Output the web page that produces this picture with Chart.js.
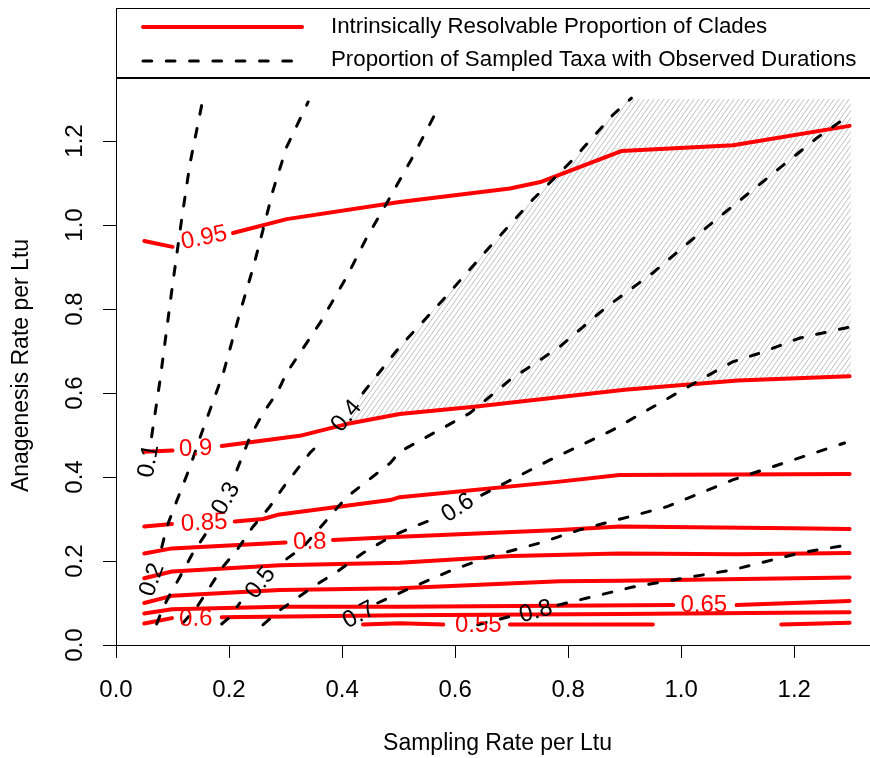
<!DOCTYPE html>
<html>
<head>
<meta charset="utf-8">
<script src="https://cdn.jsdelivr.net/npm/chart.js@4.4.1/dist/chart.umd.min.js"></script>
<style>
  html, body { margin: 0; padding: 0; background: #fff; overflow: hidden; }
  #wrap { width: 900px; height: 758px; }
</style>
</head>
<body>
<div id="wrap"><canvas id="c" width="900" height="758"></canvas></div>
<script>
// axis ticks
const xTicks = [0, 0.2, 0.4, 0.6, 0.8, 1.0, 1.2];
const yTicks = [0, 0.2, 0.4, 0.6, 0.8, 1.0, 1.2];

// red contours: intrinsically resolvable proportion of clades
// [sampling, anagenesis] pairs, null = break in the line
const res95 = [[0.05,0.962],[0.10,0.948],null,[0.207,0.981],[0.302,1.014],[0.502,1.055],[0.697,1.087],[0.753,1.103],[0.894,1.176],[1.092,1.190],[1.298,1.236]];
const res90 = [[0.05,0.46],[0.10,0.463],null,[0.187,0.474],[0.325,0.498],[0.408,0.526],[0.502,0.55],[0.638,0.568],[0.9,0.608],[1.1,0.63],[1.298,0.64]];
const res85 = [[0.05,0.282],[0.099,0.288],null,[0.21,0.294],[0.26,0.3],[0.286,0.31],[0.485,0.345],[0.502,0.352],[0.785,0.389],[0.891,0.405],[1.298,0.407]];
const res80 = [[0.05,0.218],[0.099,0.23],[0.3,0.244],null,[0.384,0.25],[0.502,0.258],[0.785,0.274],[0.891,0.282],[1.197,0.278],[1.298,0.276]];
const res75 = [[0.05,0.159],[0.099,0.175],[0.29,0.19],[0.502,0.196],[0.7,0.212],[0.891,0.218],[1.1,0.216],[1.298,0.219]];
const res70 = [[0.05,0.1],[0.099,0.117],[0.29,0.131],[0.502,0.135],[0.785,0.152],[0.891,0.153],[1.298,0.161]];
const res65 = [[0.05,0.075],[0.099,0.085],[0.29,0.091],[0.502,0.091],[0.986,0.095],null,[1.098,0.095],[1.298,0.105]];
const res60 = [[0.05,0.051],[0.099,0.064],null,[0.187,0.066],[0.502,0.071],[0.891,0.074],[1.298,0.078]];
const res55 = [[0.437,0.049],[0.502,0.052],[0.579,0.049],null,[0.697,0.049],[0.95,0.049],null,[1.177,0.049],[1.298,0.053]];

// black dashed contours: proportion of sampled taxa with observed durations
const obs10 = [[0.063,0.496],[0.078,0.631],[0.098,0.837],[0.116,1.012],[0.131,1.147],[0.154,1.301]];
const obs20 = [[0.081,0.233],[0.09,0.281],[0.099,0.314],[0.113,0.362],[0.131,0.424],[0.149,0.495],[0.19,0.648],[0.219,0.79],[0.243,0.9],[0.26,0.988],[0.278,1.083],[0.302,1.186],[0.34,1.293]];
const obs30 = [[0.072,0.05],[0.083,0.088],[0.095,0.119],[0.113,0.162],[0.136,0.219],[0.161,0.269],null,[0.214,0.417],[0.237,0.495],[0.26,0.552],[0.285,0.6],[0.302,0.648],[0.361,0.767],[0.408,0.876],[0.444,0.971],[0.479,1.052],[0.525,1.162],[0.573,1.286]];
const obs40 = [[0.118,0.052],[0.143,0.09],[0.166,0.138],[0.189,0.186],[0.214,0.226],[0.242,0.281],[0.272,0.329],[0.299,0.381],[0.343,0.457],[0.366,0.488],null,[0.437,0.6],[0.502,0.71],[0.578,0.821],[0.656,0.94],[0.737,1.06],[0.808,1.155],[0.879,1.262],[0.912,1.302]];
const obs50 = [[0.187,0.05],[0.202,0.067],[0.219,0.1],null,[0.302,0.205],[0.331,0.233],[0.408,0.352],[0.485,0.433],[0.502,0.46],[0.626,0.552],[0.697,0.631],[0.785,0.71],[0.868,0.805],[0.95,0.886],[1.033,0.981],[1.126,1.083],[1.24,1.207],[1.298,1.262]];
const obs60 = [[0.26,0.048],[0.29,0.083],[0.308,0.1],[0.348,0.138],[0.396,0.179],[0.437,0.219],[0.485,0.257],[0.525,0.281],[0.562,0.3],null,[0.647,0.357],[0.767,0.44],[0.879,0.512],[1.033,0.631],[1.091,0.674],[1.139,0.695],[1.21,0.731],[1.298,0.757]];
const obs70 = [[0.463,0.1],[0.525,0.138],[0.596,0.179],[0.66,0.21],[0.75,0.243],[0.82,0.274],[0.974,0.329],[1.091,0.393],[1.289,0.481]];
const obs80 = [[0.64,0.048],[0.697,0.068],null,[0.782,0.095],[0.914,0.138],[1.091,0.179],[1.21,0.219],[1.284,0.236]];

// contour labels
const resLabels = ['0.95', '0.9', '0.85', '0.8', '0.65', '0.6', '0.55'];
const resLabelX = [0.156, 0.141, 0.156, 0.343, 1.04, 0.141, 0.641];
const resLabelY = [0.969, 0.467, 0.29, 0.245, 0.094, 0.062, 0.046];
const resLabelAngle = [-12, -2, -3, -1, 0, -1, 0];
const obsLabels = ['0.1', '0.2', '0.3', '0.4', '0.5', '0.6', '0.7', '0.8'];
const obsLabelX = [0.058, 0.064, 0.195, 0.408, 0.256, 0.605, 0.43, 0.743];
const obsLabelY = [0.438, 0.155, 0.348, 0.545, 0.148, 0.326, 0.071, 0.079];
const obsLabelAngle = [-80, -70, -60, -50, -52, -33, -28, -15];

// shaded region (observed > 0.4 and resolvable > 0.9)
const hatchRegion = [[0.41,0.531],[0.437,0.6],[0.502,0.71],[0.578,0.821],[0.656,0.94],[0.737,1.06],[0.808,1.155],[0.879,1.262],[0.905,1.3],[1.3,1.3],[1.3,0.64],[1.1,0.63],[0.9,0.608],[0.638,0.568],[0.502,0.55],[0.41,0.531]];

const resLines = [res95, res90, res85, res80, res75, res70, res65, res60, res55];
const obsLines = [obs10, obs20, obs30, obs40, obs50, obs60, obs70, obs80];

const FONT = '"Liberation Sans", Arial, sans-serif';
Chart.defaults.font.family = FONT;

const canvas = document.getElementById('c');

function pts(arr) {
  return arr.map(p => p ? { x: p[0], y: p[1] } : { x: null, y: null });
}

function makeHatch() {
  const t = document.createElement('canvas');
  t.width = 5; t.height = 7;
  const g = t.getContext('2d');
  g.strokeStyle = '#b8b8b8';
  g.lineWidth = 0.9;
  for (const x0 of [-5, 0, 5]) {
    g.beginPath(); g.moveTo(x0, 7); g.lineTo(x0 + 5, 0); g.stroke();
  }
  return canvas.getContext('2d').createPattern(t, 'repeat');
}

const datasets = [];
obsLines.forEach(l => datasets.push({
  data: pts(l), showLine: true, fill: false, tension: 0, order: 1,
  borderColor: '#000', borderWidth: 3, borderDash: [8.7, 14.6],
  borderCapStyle: 'round', pointRadius: 0
}));
resLines.forEach(l => datasets.push({
  data: pts(l), showLine: true, fill: false, tension: 0, order: 2,
  borderColor: '#ff0000', borderWidth: 4, borderCapStyle: 'round',
  borderJoinStyle: 'round', pointRadius: 0
}));
datasets.push({
  data: pts(hatchRegion), showLine: true, fill: 'shape', tension: 0, order: 3,
  borderColor: 'rgba(0,0,0,0)', borderWidth: 0, backgroundColor: makeHatch(), pointRadius: 0
});

const decor = {
  id: 'decor',
  afterDatasetsDraw(chart) {
    const ctx = chart.ctx;
    const a = chart.chartArea;
    const xs = chart.scales.x, ys = chart.scales.y;
    ctx.save();
    ctx.textAlign = 'center';
    ctx.textBaseline = 'middle';

    // contour labels
    ctx.font = '24px ' + FONT;
    const putLabel = (txt, x, y, ang, col) => {
      ctx.save();
      ctx.translate(xs.getPixelForValue(x), ys.getPixelForValue(y));
      ctx.rotate(ang * Math.PI / 180);
      ctx.fillStyle = col;
      ctx.fillText(txt, 0, 0);
      ctx.restore();
    };
    resLabels.forEach((t, i) => putLabel(t, resLabelX[i], resLabelY[i], resLabelAngle[i], '#ff0000'));
    obsLabels.forEach((t, i) => putLabel(t, obsLabelX[i], obsLabelY[i], obsLabelAngle[i], '#000'));

    // plot box
    ctx.strokeStyle = '#000';
    ctx.lineWidth = 1;
    ctx.strokeRect(Math.round(a.left) + 0.5, Math.round(a.top) + 0.5,
      Math.round(a.right - a.left), Math.round(a.bottom - a.top));

    // y tick labels, rotated like R
    ctx.font = '24px ' + FONT;
    ctx.fillStyle = '#000';
    yTicks.forEach(v => {
      ctx.save();
      ctx.translate(75, ys.getPixelForValue(v));
      ctx.rotate(-Math.PI / 2);
      ctx.fillText(v.toFixed(1), 0, 0);
      ctx.restore();
    });

    // axis titles
    ctx.font = '23px ' + FONT;
    ctx.fillText('Sampling Rate per Ltu', (a.left + a.right) / 2, 744);
    ctx.save();
    ctx.translate(22, (a.top + a.bottom) / 2 + 4);
    ctx.rotate(-Math.PI / 2);
    ctx.fillText('Anagenesis Rate per Ltu', 0, 0);
    ctx.restore();

    // legend
    ctx.fillStyle = '#fff';
    ctx.fillRect(117, 9, 800, 68);
    ctx.strokeStyle = '#000';
    ctx.lineWidth = 1;
    ctx.strokeRect(116.5, 8.5, 800, 69);
    ctx.lineCap = 'round';
    ctx.strokeStyle = '#ff0000';
    ctx.lineWidth = 4;
    ctx.beginPath(); ctx.moveTo(143, 27); ctx.lineTo(302, 27); ctx.stroke();
    ctx.strokeStyle = '#000';
    ctx.lineWidth = 3;
    ctx.setLineDash([8.7, 14.6]);
    ctx.beginPath(); ctx.moveTo(143, 61); ctx.lineTo(302, 61); ctx.stroke();
    ctx.setLineDash([]);
    ctx.font = '22.3px ' + FONT;
    ctx.fillStyle = '#000';
    ctx.textAlign = 'left';
    ctx.fillText('Intrinsically Resolvable Proportion of Clades', 331, 27);
    ctx.fillText('Proportion of Sampled Taxa with Observed Durations', 331, 60);
    ctx.restore();
  }
};

new Chart(canvas, {
  type: 'scatter',
  data: { datasets },
  options: {
    responsive: false,
    animation: false,
    devicePixelRatio: 1,
    layout: { padding: { left: 0, right: 21, top: 78, bottom: 0 } },
    plugins: { legend: { display: false }, tooltip: { enabled: false } },
    scales: {
      x: {
        type: 'linear', min: 0, max: 1.35,
        afterBuildTicks: s => { s.ticks = xTicks.map(v => ({ value: v })); },
        afterFit: s => { s.height = 113; },
        grid: { drawOnChartArea: false, drawTicks: true, tickLength: 13, color: '#000', lineWidth: 1 },
        border: { display: false },
        ticks: { font: { size: 24 }, color: '#000', padding: 18, maxRotation: 0, autoSkip: false,
          callback: v => v.toFixed(1) }
      },
      y: {
        type: 'linear', min: 0, max: 1.35,
        afterBuildTicks: s => { s.ticks = yTicks.map(v => ({ value: v })); },
        afterFit: s => { s.width = 116; },
        grid: { drawOnChartArea: false, drawTicks: true, tickLength: 13, color: '#000', lineWidth: 1 },
        border: { display: false },
        ticks: { display: false }
      }
    }
  },
  plugins: [decor]
});
</script>
</body>
</html>
